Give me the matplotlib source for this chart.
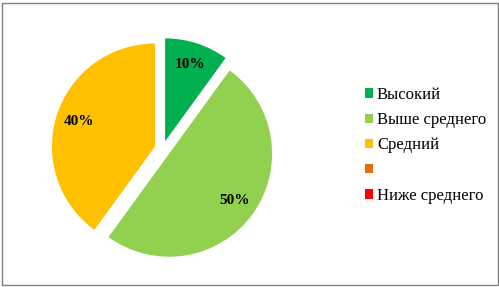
import matplotlib
matplotlib.use("Agg")
import matplotlib.pyplot as plt
from matplotlib.patches import Rectangle
from matplotlib.font_manager import FontProperties

categories = ["Высокий", "Выше среднего", "Средний", "", "Ниже среднего"]
values = [10, 50, 40, 0, 0]
colors = ["#00B050", "#92D050", "#FFC000", "#E46C0A", "#FF0000"]

plt.rcParams['font.family'] = ['Liberation Serif', 'DejaVu Serif']

fig = plt.figure(figsize=(4.99, 2.87), dpi=100)
W, H = 499, 287
cx, cy, scale = 162.6, 138.0, 103.0
half = 1.3
ax = fig.add_axes([(cx - scale * half) / W, (cy - scale * half) / H,
                   2 * scale * half / W, 2 * scale * half / H])

def fmt(p):
    return f"{p:.0f}%" if p > 0.5 else ""

wedges, texts, autotexts = ax.pie(values, colors=colors, startangle=90, counterclock=False,
                                  explode=[0.078] * len(values), radius=1.0,
                                  autopct=fmt, pctdistance=0.78,
                                  textprops=dict(fontsize=11, fontweight='bold', color='black',
                                                 family='Liberation Serif'))
ax.set_xlim(-half, half)
ax.set_ylim(-half, half)
ax.set_aspect('auto')
ax.axis('off')

prop = FontProperties(family='Liberation Serif', size=12)
leg = fig.legend(wedges, categories, loc='upper left',
                 bbox_to_anchor=(365 / W, 1 - 87 / H), frameon=False,
                 prop=prop, handlelength=0.5, handleheight=0.5,
                 handletextpad=0.22, labelspacing=0.55, borderaxespad=0, borderpad=0)

fig.patches.append(Rectangle((1.5 / W, 2.5 / H), 496 / W, 282 / H, transform=fig.transFigure,
                             fill=False, edgecolor='#808080', linewidth=1))

fig.savefig("out.png", dpi=100)
